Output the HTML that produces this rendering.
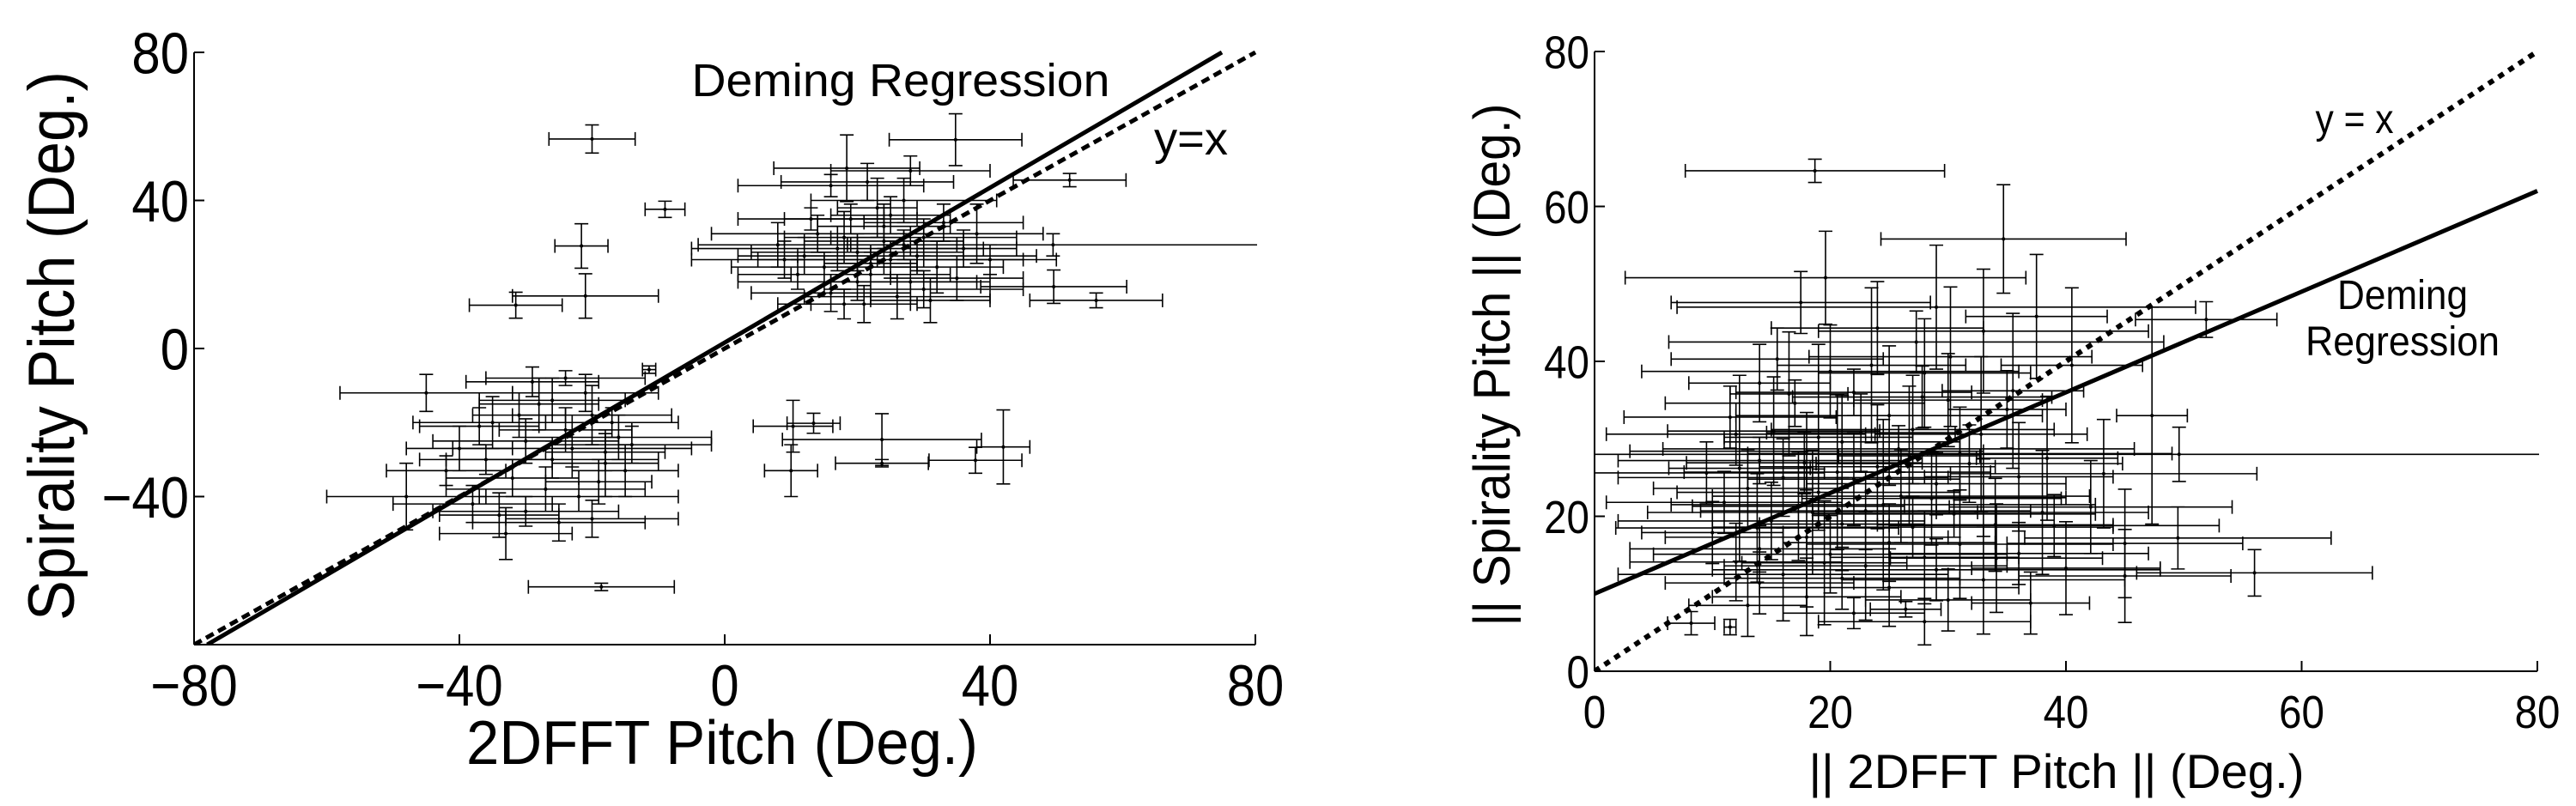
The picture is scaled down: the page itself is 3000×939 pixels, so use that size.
<!DOCTYPE html>
<html><head><meta charset="utf-8">
<style>
html,body{margin:0;padding:0;background:#fff;}
svg{display:block;}
text{font-family:"Liberation Sans",sans-serif;fill:#000;}
</style></head>
<body>
<svg id="fig" width="3000" height="939" viewBox="0 0 3000 939">
<g id="left"></g>
<g id="right"></g>
</svg>
<script>
// ---- Left chart data: [x, y, xerr, yerr]
const leftPoints = [
[-20,56.6,6.5,3.8],[-9,37.6,3,2.2],[-21.6,27.7,4,6],[-21,14.2,11,6],[-31.5,11.7,7,3.5],[-11.4,-5.7,1,1],
[-18.6,-64.4,11,1],[10.3,-21,6,7],[13.4,-20.2,4,2.7],[23.7,-24.6,15,7],[10,-33,4,7],[23.7,-31,7,1],
[37.8,-30.2,7,3.5],[42,-26.6,4,10],[52,45.5,8.5,1.8],[49.5,28,31,3],[56,13,10,2],[49.6,16.7,11,4.5],
[34.8,56.4,10,7],[18.4,48.7,11,9],[21.5,45,13,5],
[8,28,12,6],[12,25,10,5],[15,22,14,4],[18,30,9,7],[20,26,16,5],[22,20,12,8],[24,33,10,6],[25,24,20,5],
[27,28,8,4],[28,18,12,6],[30,30,14,5],[32,22,10,7],[16,15,12,5],[19,35,10,4],[21,12,8,5],[26,14,14,6],
[14,31,16,5],[23,38,6,8],[29,25,18,4],[33,34,12,5],[35,19,10,6],[11,20,9,4],[17,27,22,6],[24,29,12,9],
[31,13,9,6],[36,27,8,5],[40,24,10,4],[13,35,11,3],[20,18,18,5],[27,40,14,6],[38,31,10,8],[9,24,14,5],
[22,23,7,3],[18,12,10,4],[30,16,15,5],[25,36,9,5],[28,48,12,4],[16,44,14,3],
[-45,-12,13,5],[-40,-27,8,6],[-35,-20,12,7],[-32,-35,10,5],[-30,-25,14,6],[-28,-15,9,7],[-26,-30,16,5],
[-24,-22,10,6],[-22,-40,15,4],[-20,-18,12,8],[-18,-28,9,5],[-16,-24,14,6],[-15,-33,8,7],[-38,-42,12,5],
[-34,-45,9,6],[-29,-9,10,4],[-25,-47,13,5],[-21,-12,11,5],[-19,-36,8,6],[-17,-20,10,4],[-48,-40,12,9],
[-36,-30,10,4],[-27,-38,15,6],[-23,-27,18,5],[-31,-18,7,6],[-14,-26,12,5],[-42,-33,9,4],[-33,-50,10,7],
[-20,-46,13,5],[-24,-8,12,2],[-37,-21,9,5],[-26,-14,11,6],[-30,-44,14,4],[-18,-31,8,9]
];
const leftXTicks = [-80,-40,0,40,80];
const leftYTicks = [-80,-40,0,40,80];
const leftYLabels = ["","−40","0","40","80"];
const leftXLabels = ["−80","−40","0","40","80"];
const leftDeming = [1.046, 1.6]; // slope, intercept

// ---- Right chart data: [x, y, xerr, yerr]
const rightPoints = [
[18.7,64.6,11,1.5],[51.9,45.4,6,2.3],[49.6,28,49.6,3.5],[56,12.7,10,3],[8.2,6.2,2,1.5],[11.5,5.7,0.5,1],[26.4,8,3,1],
[34.7,55.8,10.4,7],[19.6,50.8,17,6],[17.5,47.6,11,4],[29,47,22,8],[24,44.3,9,6],[33,43.9,14,8],[37.5,45.8,6,8],
[27.3,42.5,21,4],[15.5,40.3,9,4],[20,38.7,16,6],[28,38.5,9,7],[14,37.2,6,5],[22,36,10,3],[30,35,8,6],
[11.5,32.8,9,4],[17,34.6,11,3],[25,33,13,9],[35,33.8,5,5],[12,30.6,11,4],[21,29.6,10,6],[27,31.2,12,7],
[18,28.4,15,5],[31,28.1,18,6],[14,27.2,12,3],[24,26.4,10,8],[9.5,25.6,10,4],[16,25,14,5],[22,24.8,9,6],
[29,24.2,11,4],[36,25.1,8,7],[13,23.6,8,5],[19,23.1,12,3],[26,22.6,16,6],[33,22.4,7,5],[11,21.8,10,4],
[17.3,21.3,9,7],[23,20.7,14,5],[30.5,20.3,12,3],[38,20.5,9,8],[15,19.4,13,5],[21,19,7,6],[27,18.6,17,4],
[34,18.9,10,6],[10,17.9,6,4],[18,17.3,12,9],[25,16.6,9,5],[31,16.4,13,7],[45,16.5,10,7],[14,15.8,11,3],
[20,15.1,15,5],[28,14.7,8,6],[36,15.2,11,4],[12,14.1,9,5],[23,13.6,12,7],[29,13.1,19,4],[40,13.3,8,6],
[16,12.5,14,6],[21,12,10,4],[33,11.8,12,7],[45,12.3,9,6],[14,11.4,8,4],[25,10.8,11,5],[30,9.2,7,4],
[18,9.6,8,5],[13,8.5,5,4],[37,8.8,5,4],[22,7.5,6,2],[28,6.4,9,3],[16.5,35.8,5,8],[19,30.2,8,12],
[20.6,25.7,13,10],[26.7,27.8,6,9],[32.8,30.6,9,10],[24.5,21.5,18,11],[18.5,20.5,14,8],[31.8,26.8,13,5],
[35.5,36.2,6,10],[38.4,27.5,6,8],[40.5,39.5,6,10],[47.3,33,3,14],[43.2,25.5,13,7],[39,18.8,14,4],
[12.3,26.2,6,12],[15.2,31,9,7],[23.5,39.5,8,10],[27.8,35.4,11,4],[30.2,40.6,12,9],[22.6,30.8,8,5],
[25.8,28.7,20,3],[17.8,26.9,10,4],[19.5,14,7,8],[13.8,18.5,12,7],[28.6,22.3,11,6],[34.1,14.6,9,7],
[42.1,21.2,12,6],[49.5,17.2,13,4]
];
const rightXTicks = [0,20,40,60,80];
const rightYTicks = [0,20,40,60,80];
const rightDeming = [0.65, 10];

const NS = "http://www.w3.org/2000/svg";
function mk(tag, attrs, parent){
  const e = document.createElementNS(NS, tag);
  for (const k in attrs) e.setAttribute(k, attrs[k]);
  parent.appendChild(e);
  return e;
}

function drawChart(g, cfg){
  const sx = v => cfg.x0 + (v - cfg.xmin)/(cfg.xmax - cfg.xmin)*(cfg.x1 - cfg.x0);
  const sy = v => cfg.y1 - (v - cfg.ymin)/(cfg.ymax - cfg.ymin)*(cfg.y1 - cfg.y0);
  const cid = cfg.id + "-clip";
  const defs = mk("defs", {}, g);
  const cp = mk("clipPath", {id: cid}, defs);
  mk("rect", {x: cfg.x0, y: cfg.y0-2, width: cfg.x1-cfg.x0+2, height: cfg.y1-cfg.y0+2}, cp);
  const pg = mk("g", {"clip-path": "url(#"+cid+")"}, g);
  
  
  const cap = 8;
  cfg.points.forEach(p => {
    const [x,y,xe,ye] = p;
    const eg = mk("g", {stroke:"#000","stroke-width":1.6,fill:"none"}, pg);
    
    
    const cx = sx(x), cy = sy(y);
    const xl = sx(x-xe), xr = sx(x+xe), yt = sy(y+ye), yb = sy(y-ye);
    mk("line",{x1:xl,y1:cy,x2:xr,y2:cy},eg);
    mk("line",{x1:xl,y1:cy-cap,x2:xl,y2:cy+cap},eg);
    mk("line",{x1:xr,y1:cy-cap,x2:xr,y2:cy+cap},eg);
    mk("line",{x1:cx,y1:yt,x2:cx,y2:yb},eg);
    mk("line",{x1:cx-cap,y1:yt,x2:cx+cap,y2:yt},eg);
    mk("line",{x1:cx-cap,y1:yb,x2:cx+cap,y2:yb},eg);
    mk("circle",{cx:cx,cy:cy,r:2,fill:"#000",stroke:"none"},eg);
  });
  const lo = Math.max(cfg.xmin, cfg.ymin), hi = Math.min(cfg.xmax, cfg.ymax);
  const dl = mk("line",{x1:sx(lo),y1:sy(lo),x2:sx(hi),y2:sy(hi),stroke:"#000","stroke-width":cfg.dashW,"stroke-dasharray":cfg.dash},pg);
  
  
  const [m,b] = cfg.deming;
  let xa = cfg.xmin, xb = cfg.xmax;
  if (m*xa+b < cfg.ymin) xa = (cfg.ymin-b)/m;
  if (m*xb+b > cfg.ymax) xb = (cfg.ymax-b)/m;
  const rl = mk("line",{x1:sx(xa),y1:sy(m*xa+b),x2:sx(xb),y2:sy(m*xb+b),stroke:"#000","stroke-width":5},pg);
  
  
  const ax = mk("g",{stroke:"#000","stroke-width":2},g);
  
  
  mk("line",{x1:cfg.x0,y1:cfg.y0,x2:cfg.x0,y2:cfg.y1},ax);
  mk("line",{x1:cfg.x0,y1:cfg.y1,x2:cfg.x1,y2:cfg.y1},ax);
  cfg.xticks.forEach((t,i) => {
    mk("line",{x1:sx(t),y1:cfg.y1,x2:sx(t),y2:cfg.y1-12},ax);
    const tx = mk("text",{x:sx(t),y:cfg.xlabY,"text-anchor":"middle","font-size":cfg.tickFS,transform:"translate("+sx(t)+" 0) scale(0.88 1) translate("+(-sx(t))+" 0)"},g);
    
    
    tx.textContent = cfg.xlabels[i];
  });
  cfg.yticks.forEach((t,i) => {
    mk("line",{x1:cfg.x0,y1:sy(t),x2:cfg.x0+12,y2:sy(t)},ax);
    const ty = mk("text",{x:cfg.ylabX,y:sy(t)+cfg.tickFS*0.36,"text-anchor":"end","font-size":cfg.tickFS,transform:"translate("+cfg.ylabX+" 0) scale(0.88 1) translate("+(-cfg.ylabX)+" 0)"},g);
    
    
    ty.textContent = cfg.ylabels[i];
  });
}

drawChart(document.getElementById("left"), {
  id:"L", x0:226, x1:1462, y0:61, y1:751, xmin:-80, xmax:80, ymin:-80, ymax:80,
  points:leftPoints, xticks:leftXTicks, yticks:leftYTicks, xlabels:leftXLabels, ylabels:leftYLabels,
  deming:leftDeming, dash:"10 6", dashW:5, tickFS:68, xlabY:822, ylabX:220
});
drawChart(document.getElementById("right"), {
  id:"R", x0:1857, x1:2955, y0:60, y1:782, xmin:0, xmax:80, ymin:0, ymax:80,
  points:rightPoints, xticks:rightXTicks, yticks:rightYTicks, xlabels:rightXTicks.map(String), ylabels:rightYTicks.map(String),
  deming:rightDeming, dash:"7 7", dashW:6, tickFS:54, xlabY:848, ylabX:1851
});

function addText(parent, x, y, s, fs, len, name, rot){
  const t = mk("text",{x:x,y:y,"font-size":fs,"text-anchor":"middle",textLength:len,lengthAdjust:"spacingAndGlyphs"},parent);
  if (rot) t.setAttribute("transform","rotate(-90 "+x+" "+y+")");
  
  
  t.textContent = s;
}
const L = document.getElementById("left"), R = document.getElementById("right");
addText(L, 841, 890, "2DFFT Pitch (Deg.)", 72, 596, "x-axis-title");
addText(L, 86, 403, "Spirality Pitch (Deg.)", 76, 640, "y-axis-title", true);
addText(L, 1049, 112, "Deming Regression", 54, 487, "deming-label");
addText(L, 1387, 180, "y=x", 54, 86, "identity-label");
addText(R, 2395, 918, "|| 2DFFT Pitch || (Deg.)", 56, 577, "x-axis-title");
addText(R, 1758, 425, "|| Spirality Pitch || (Deg.)", 60, 609, "y-axis-title", true);
addText(R, 2742, 155, "y = x", 48, 91, "identity-label");
addText(R, 2798, 360, "Deming", 48, 152, "deming-label-line1");
addText(R, 2798, 414, "Regression", 48, 226, "deming-label-line2");
</script>
</body></html>
